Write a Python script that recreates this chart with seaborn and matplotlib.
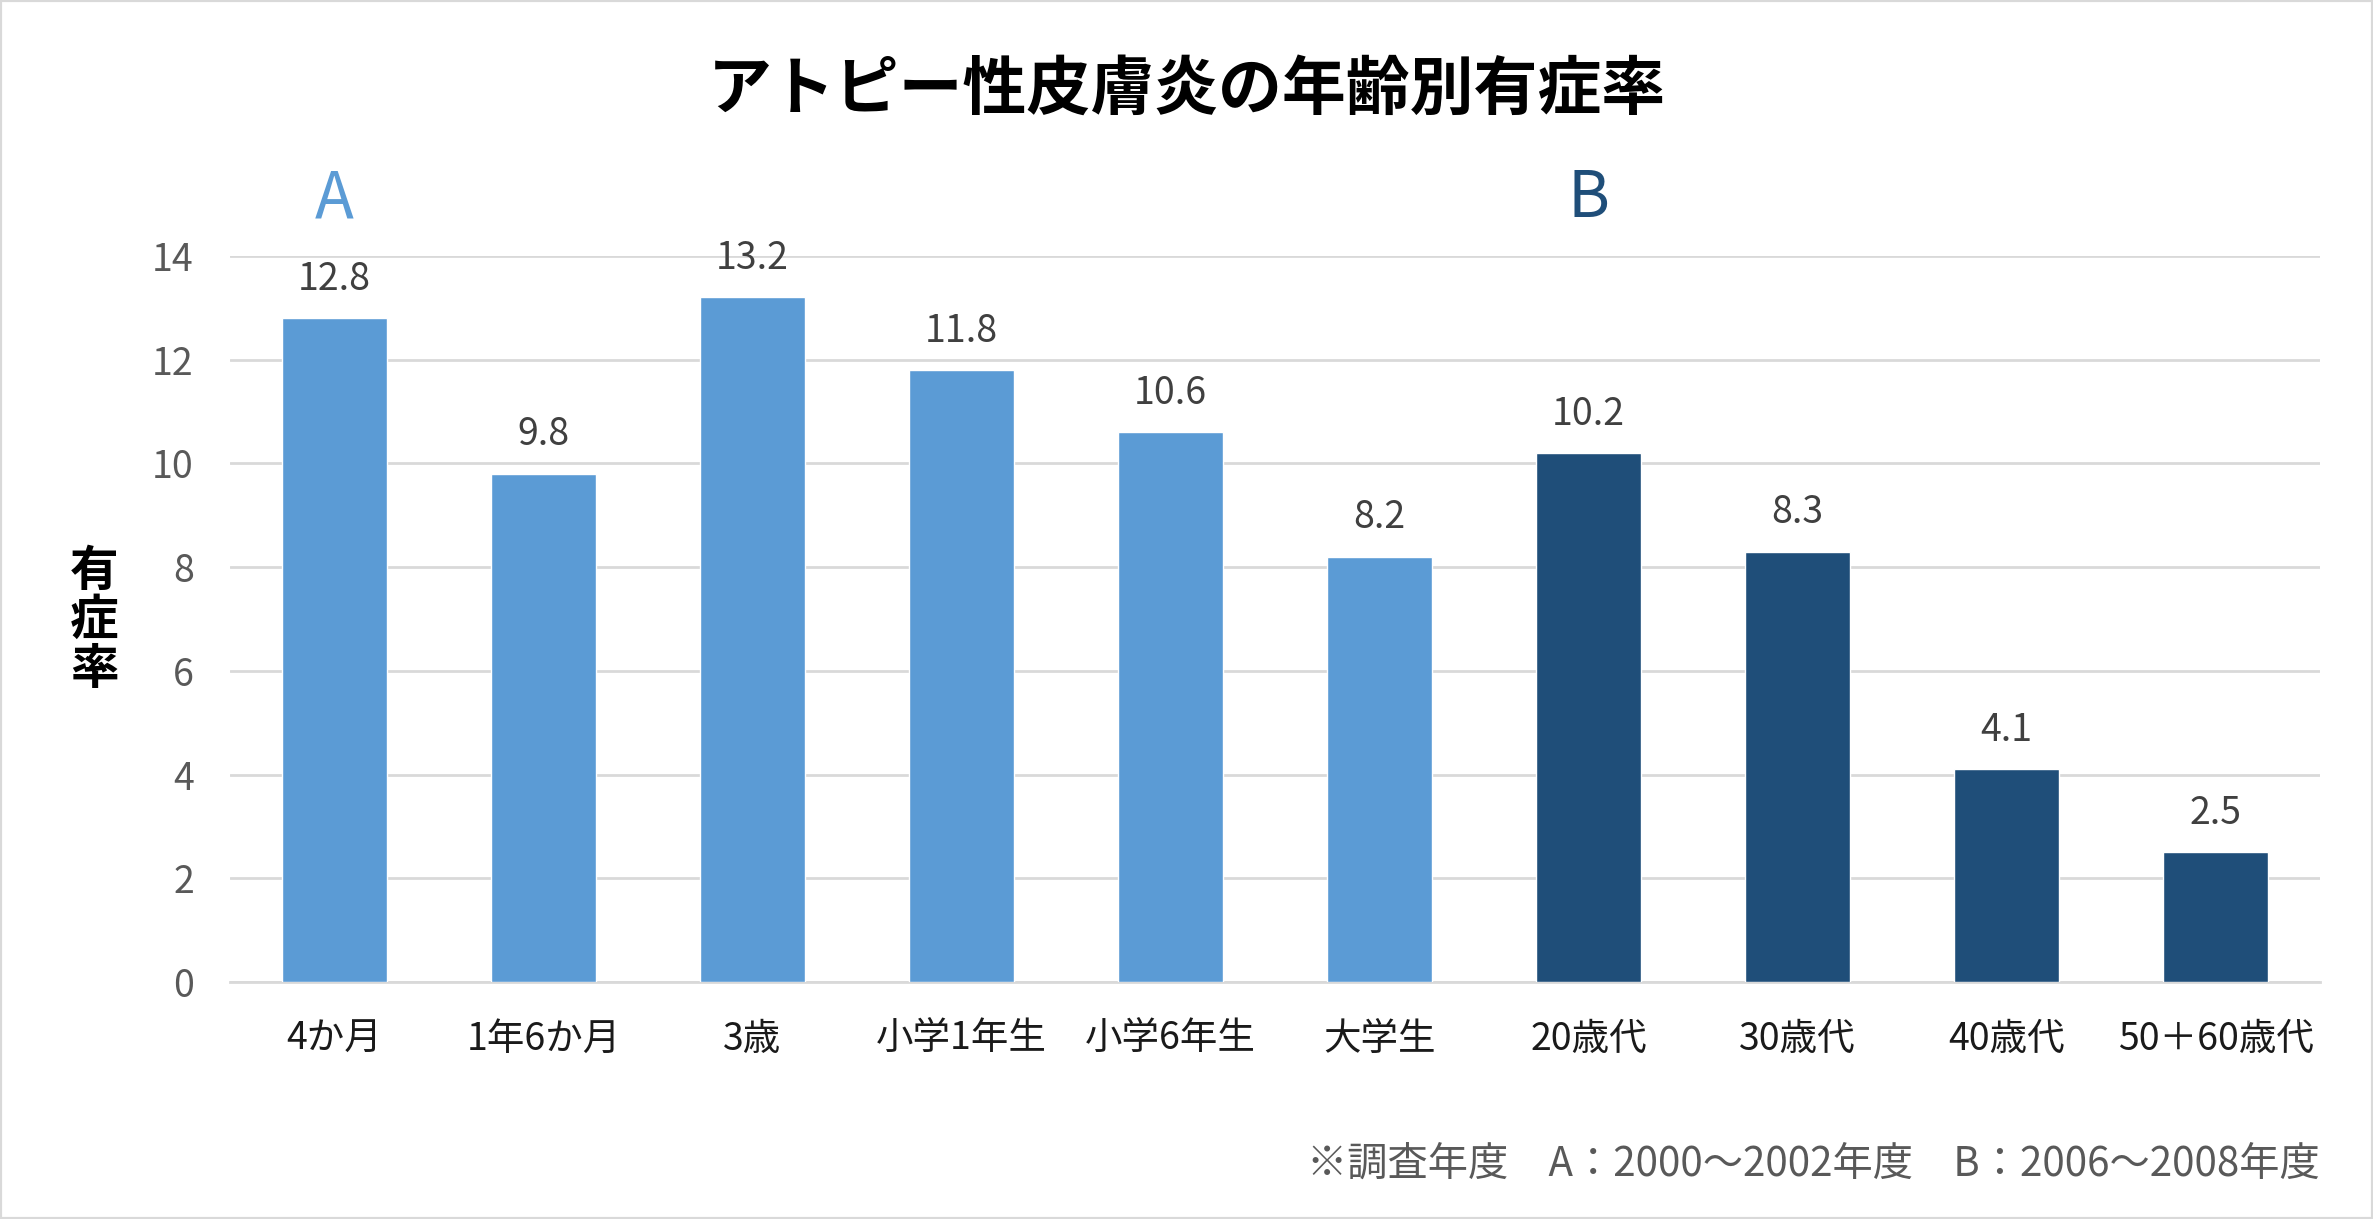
# Atopic dermatitis prevalence by age group, bar chart
import pandas as pd
import seaborn as sns
import matplotlib.pyplot as plt
from matplotlib.patches import Rectangle

categories = ['4か月', '1年6か月', '3歳', '小学1年生', '小学6年生', '大学生',
              '20歳代', '30歳代', '40歳代', '50＋60歳代']
values = [12.8, 9.8, 13.2, 11.8, 10.6, 8.2, 10.2, 8.3, 4.1, 2.5]
groups = ['A', 'A', 'A', 'A', 'A', 'A', 'B', 'B', 'B', 'B']
yticks = [0, 2, 4, 6, 8, 10, 12, 14]

colors = {'A': '#5B9BD5', 'B': '#1F4E79'}

df = pd.DataFrame({'cat': categories, 'val': values, 'grp': groups})

sns.set_style('white')
plt.rcParams['font.family'] = ['Noto Sans CJK JP', 'DejaVu Sans']

fig = plt.figure(figsize=(23.73, 12.19), dpi=100)
ax = fig.add_axes([0.0969, 0.1944, 0.8808, 0.5956])

sns.barplot(data=df, x='cat', y='val', hue='grp', palette=colors,
            saturation=1, dodge=False, width=0.5, legend=False, ax=ax,
            zorder=3)

for c in ax.containers:
    ax.bar_label(c, fmt='%.1f', padding=14, fontsize=27, color='#404040')

ax.set_xlim(-0.5, len(categories) - 0.5)
ax.set_ylim(0, 14)
ax.set_yticks(yticks)
ax.yaxis.grid(True, color='#D9D9D9', linewidth=2, zorder=0)
ax.set_axisbelow(True)
for s in ['top', 'right', 'left']:
    ax.spines[s].set_visible(False)
ax.spines['bottom'].set_color('#D9D9D9')
ax.spines['bottom'].set_linewidth(2)
ax.tick_params(axis='y', length=0, pad=26, labelsize=27, labelcolor='#595959')
ax.tick_params(axis='x', length=0, pad=27, labelsize=27, labelcolor='#1a1a1a')
ax.set_xlabel('')
ax.set_ylabel('')

# title, group markers, axis label, footnote
fig.text(0.5, 0.926, 'アトピー性皮膚炎の年齢別有症率', ha='center', va='center',
         fontsize=46, fontweight='bold', color='black')
ax.text(0, 15.1, 'A', ha='center', va='center', fontsize=46, color='#5B9BD5')
ax.text(6, 15.1, 'B', ha='center', va='center', fontsize=46, color='#1F4E79')
fig.text(0.0396, 0.491, '有\n症\n率', ha='center', va='center', fontsize=35,
         fontweight='bold', linespacing=1.0, color='black')
fig.text(0.9777, 0.045, '※調査年度　A：2000～2002年度　B：2006～2008年度',
         ha='right', va='center', fontsize=29, color='#595959')

fig.patches.append(Rectangle((0, 0), 1, 1, transform=fig.transFigure,
                             fill=False, edgecolor='#D9D9D9', linewidth=3))

fig.savefig('out.png', dpi=100)
